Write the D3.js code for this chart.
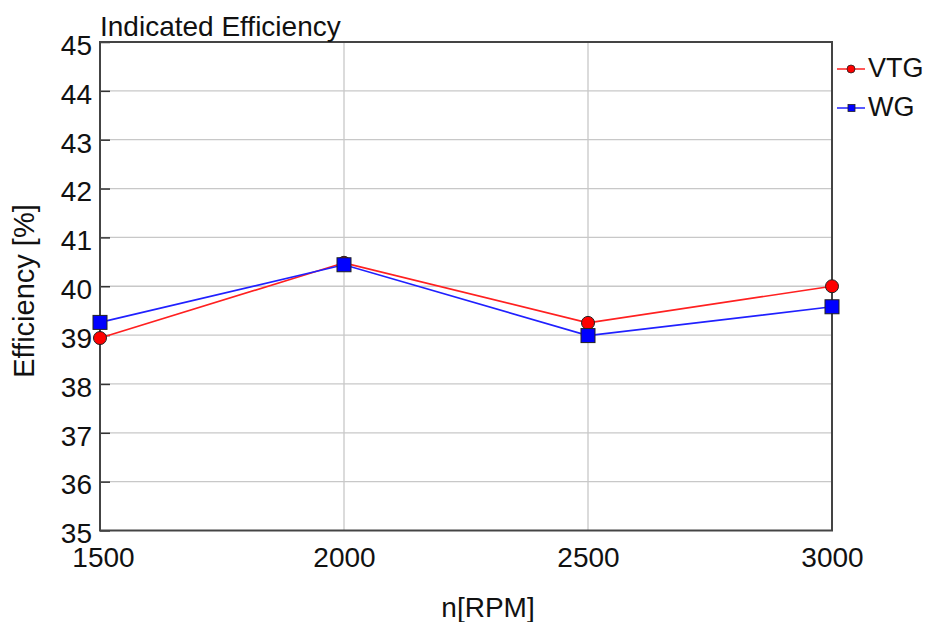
<!DOCTYPE html>
<html>
<head>
<meta charset="utf-8">
<script src="https://cdn.jsdelivr.net/npm/d3@7"></script>
<style>
  body { margin: 0; background: #fff; }
  svg text { font-family: "Liberation Sans", Arial, sans-serif; fill: #111; }
</style>
</head>
<body>
<svg id="chart" width="930" height="622"></svg>
<script>
// Engine speed points and indicated efficiency for each boost control strategy
const rpm = [1500, 2000, 2500, 3000];
const vtg = [38.94, 40.48, 39.25, 40.0];
const wg = [39.26, 40.44, 38.99, 39.58];
const xTicks = [1500, 2000, 2500, 3000];
const yTicks = [35, 36, 37, 38, 39, 40, 41, 42, 43, 44, 45];
const seriesNames = ["VTG", "WG"];

const FONT = "'Liberation Sans', Arial, sans-serif";
const svg = d3.select("#chart");
const m = { left: 100, right: 832, top: 42, bottom: 530.5 };

const x = d3.scaleLinear().domain([1500, 3000]).range([m.left, m.right]);
const y = d3.scaleLinear().domain([35, 45]).range([m.bottom, m.top]);

// grid
const grid = svg.append("g");
grid.selectAll(".gy").data(yTicks.slice(1, -1)).join("line")
  .attr("x1", m.left).attr("x2", m.right)
  .attr("y1", d => y(d)).attr("y2", d => y(d))
  .attr("stroke", "#c8c8c8").attr("stroke-width", 1.3);
grid.selectAll(".gx").data(xTicks.slice(1, -1)).join("line")
  .attr("y1", m.top).attr("y2", m.bottom)
  .attr("x1", d => x(d)).attr("x2", d => x(d))
  .attr("stroke", "#c8c8c8").attr("stroke-width", 1.3);

// left axis with short inward ticks
const yAxis = d3.axisLeft(y).tickValues(yTicks).tickSize(-10).tickPadding(8);
const gy = svg.append("g").attr("transform", `translate(${m.left},0)`).call(yAxis);
gy.select(".domain").remove();
gy.selectAll(".tick line").attr("stroke", "#333").attr("stroke-width", 1.5);
gy.selectAll(".tick text").attr("font-size", 28).attr("dy", "0.44em")
  .attr("x", -8)
  .style("font-family", FONT).attr("fill", "#111");

const xAxis = d3.axisBottom(x).tickValues(xTicks).tickSize(0).tickPadding(17)
  .tickFormat(d3.format("d"));
const gx = svg.append("g").attr("transform", `translate(0,${m.bottom})`).call(xAxis);
gx.select(".domain").remove();
gx.selectAll(".tick text").attr("font-size", 28)
  .attr("dx", (d, i) => i === 0 ? 3 : 0)
  .style("font-family", FONT).attr("fill", "#111");

// frame
svg.append("rect")
  .attr("x", m.left).attr("y", m.top)
  .attr("width", m.right - m.left).attr("height", m.bottom - m.top)
  .attr("fill", "none").attr("stroke", "#444").attr("stroke-width", 2);

// series lines
const line = d3.line().x((d, i) => x(rpm[i])).y(d => y(d));
svg.append("path").datum(vtg).attr("d", line)
  .attr("fill", "none").attr("stroke", "#ff2020").attr("stroke-width", 1.7);
svg.append("path").datum(wg).attr("d", line)
  .attr("fill", "none").attr("stroke", "#2020ff").attr("stroke-width", 1.7);

// markers
svg.selectAll(".mv").data(vtg).join("circle")
  .attr("cx", (d, i) => x(rpm[i])).attr("cy", d => y(d)).attr("r", 6.5)
  .attr("fill", "#ff0000").attr("stroke", "#222").attr("stroke-width", 1);
svg.selectAll(".mw").data(wg).join("rect")
  .attr("x", (d, i) => x(rpm[i]) - 7).attr("y", d => y(d) - 7)
  .attr("width", 14).attr("height", 14)
  .attr("fill", "#0000ff").attr("stroke", "#222").attr("stroke-width", 1);

// title and axis labels
svg.append("text").attr("x", 100).attr("y", 36).attr("font-size", 28)
  .text("Indicated Efficiency");
svg.append("text").attr("transform", "translate(34,291) rotate(-90)")
  .attr("text-anchor", "middle").attr("font-size", 29).text("Efficiency [%]");
svg.append("text").attr("x", 488).attr("y", 617).attr("text-anchor", "middle")
  .attr("font-size", 28).text("n[RPM]");

// legend
const lg = svg.append("g");
const ly = [69, 108];
lg.append("line").attr("x1", 837).attr("x2", 865).attr("y1", ly[0]).attr("y2", ly[0])
  .attr("stroke", "#ff2020").attr("stroke-width", 1.5);
lg.append("circle").attr("cx", 851).attr("cy", ly[0]).attr("r", 4)
  .attr("fill", "#ff0000").attr("stroke", "#222").attr("stroke-width", 0.8);
lg.append("line").attr("x1", 837).attr("x2", 865).attr("y1", ly[1]).attr("y2", ly[1])
  .attr("stroke", "#2020ff").attr("stroke-width", 1.5);
lg.append("rect").attr("x", 848).attr("y", ly[1] - 3.5).attr("width", 7).attr("height", 7)
  .attr("fill", "#0000ff").attr("stroke", "#222").attr("stroke-width", 0.8);
lg.selectAll(".lt").data(seriesNames).join("text")
  .attr("x", 868).attr("y", (d, i) => ly[i] + 8)
  .attr("font-size", 27).text(d => d);
</script>
</body>
</html>
